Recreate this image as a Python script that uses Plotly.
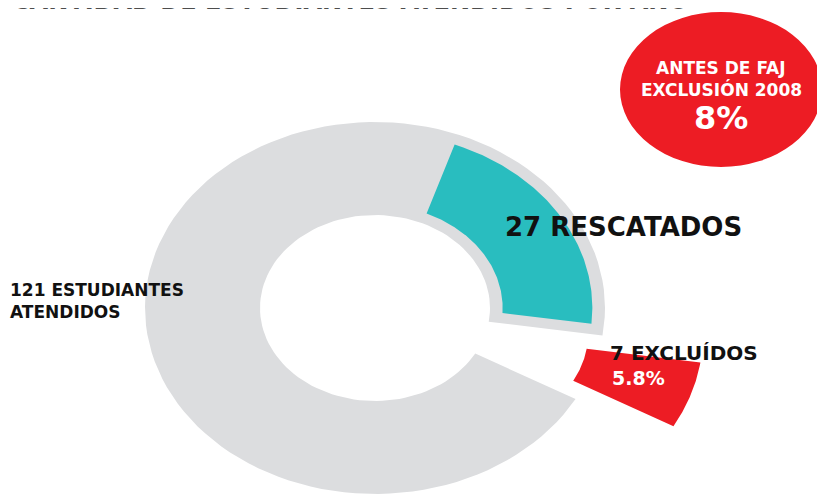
import numpy as np
import plotly.graph_objects as go

# ---- data ----
categories = ["ESTUDIANTES ATENDIDOS", "RESCATADOS", "EXCLUÍDOS"]
counts = [121, 27, 7]
before_label = ["ANTES DE FAJ", "EXCLUSIÓN 2008"]
before_pct = [8]
title_text = "CANTIDAD DE ESTUDIANTES ATENDIDOS POR AÑO"

# ---- styles ----
GREY = "#DCDDDF"
TEAL = "#29BDBF"
RED = "#ED1C24"
FONT = "DejaVu Sans"
W, H = 825, 495
OFF = 8                          # page body margin offset (px)
CX, CY = 375 - OFF, 308 - OFF    # donut centre in figure pixels
RXP, RYP = 230, 186              # donut outer radii in pixels

total = counts[0]
gap_mid = -18.9                  # bisector of the pulled slice (deg)
hole, r_outer = 0.5, 1.0
pull = 0.45
margin = 0.055                   # inset of the teal slice inside the grey ring


def px(xp):
    return (xp - OFF - CX) / RXP


def py(yp):
    return (CY - (yp - OFF)) / RYP


def arc(r, a0, a1, n=120):
    t = np.radians(np.linspace(a0, a1, n))
    return r * np.cos(t), r * np.sin(t)


def ring_slice(r0, r1, a0, a1, dx=0.0, dy=0.0):
    xo, yo = arc(r1, a0, a1)
    xi, yi = arc(r0, a1, a0)
    x = np.concatenate([xo, xi, xo[:1]]) + dx
    y = np.concatenate([yo, yi, yo[:1]]) + dy
    return x, y


excl_span = counts[2] / total * 360
gap_lo = gap_mid - excl_span / 2
gap_hi = gap_mid + excl_span / 2

fig = go.Figure()

# grey ring: all attended students except the excluded slice
gx, gy = ring_slice(hole, r_outer, gap_hi, gap_lo + 360)
fig.add_trace(go.Scatter(x=gx, y=gy, fill="toself", fillcolor=GREY, mode="lines",
                         line=dict(width=0, color=GREY), hoverinfo="skip",
                         name=categories[0]))

# teal slice: rescued students, inset inside the grey ring
resc_span = counts[1] / total * 360
t0, t1 = gap_hi, gap_hi + resc_span
ri, ro = hole + margin, r_outer - margin
do = np.degrees(np.arcsin(margin / ro))
di = np.degrees(np.arcsin(margin / ri))
xo, yo = arc(ro, t0 + do, t1 - do)
xi, yi = arc(ri, t1 - di, t0 + di)
tx = np.concatenate([xo, xi, xo[:1]])
ty = np.concatenate([yo, yi, yo[:1]])
fig.add_trace(go.Scatter(x=tx, y=ty, fill="toself", fillcolor=TEAL, mode="lines",
                         line=dict(width=0, color=TEAL), hoverinfo="skip",
                         name=categories[1]))

# red slice: excluded students, pulled out
mid = np.radians(gap_mid)
rx, ry = ring_slice(hole, r_outer, gap_lo, gap_hi,
                    pull * np.cos(mid), pull * np.sin(mid))
fig.add_trace(go.Scatter(x=rx, y=ry, fill="toself", fillcolor=RED, mode="lines",
                         line=dict(width=0, color=RED), hoverinfo="skip",
                         name=categories[2]))

# ---- labels ----
pct_excl = counts[2] / total * 100
fig.add_annotation(x=px(8), y=py(301), xref="x", yref="y", xanchor="left", align="left",
                   text=f"<b>{counts[0]} ESTUDIANTES<br>ATENDIDOS</b>", showarrow=False,
                   font=dict(family=FONT, size=17, color="#111111"))
fig.add_annotation(x=px(503), y=py(227), xref="x", yref="y", xanchor="left",
                   text=f"<b>{counts[1]} RESCATADOS</b>", showarrow=False,
                   font=dict(family=FONT, size=26, color="#111111"))
fig.add_annotation(x=px(608), y=py(353), xref="x", yref="y", xanchor="left",
                   text=f"<b>{counts[2]} EXCLUÍDOS</b>", showarrow=False,
                   font=dict(family=FONT, size=20, color="#111111"))
fig.add_annotation(x=px(610), y=py(378), xref="x", yref="y", xanchor="left",
                   text=f"<b>{pct_excl:.1f}%</b>", showarrow=False,
                   font=dict(family=FONT, size=19, color="white"))

# red "before" circle
fig.add_shape(type="circle", xref="paper", yref="paper",
              x0=(620 - OFF) / W, x1=(822 - OFF) / W,
              y0=1 - (167 - OFF) / H, y1=1 - (12 - OFF) / H,
              fillcolor=RED, line=dict(width=0), layer="below")
for txt, ypix, size in [(before_label[0], 68, 17), (before_label[1], 90, 17),
                        (f"{before_pct[0]}%", 118, 32)]:
    fig.add_annotation(x=(721 - OFF) / W, y=1 - (ypix - OFF) / H, xref="paper",
                       yref="paper", xanchor="center", yanchor="middle",
                       text=f"<b>{txt}</b>", showarrow=False,
                       font=dict(family=FONT, size=size, color="white"))

# cut-off title at the very top (as in the reference)
fig.add_annotation(x=(350 - OFF) / W, y=1, xref="paper", yref="paper",
                   xanchor="center", yanchor="bottom", yshift=-9,
                   text=f"<b>{title_text}</b>", showarrow=False,
                   font=dict(family=FONT, size=24, color="#4D4D4D"))

fig.update_layout(
    width=W, height=H, margin=dict(l=0, r=0, t=0, b=0),
    paper_bgcolor="white", plot_bgcolor="white", showlegend=False,
    xaxis=dict(range=[-CX / RXP, (W - CX) / RXP], visible=False, fixedrange=True),
    yaxis=dict(range=[-(H - CY) / RYP, CY / RYP], visible=False, fixedrange=True),
)

fig.write_html("out.html")
